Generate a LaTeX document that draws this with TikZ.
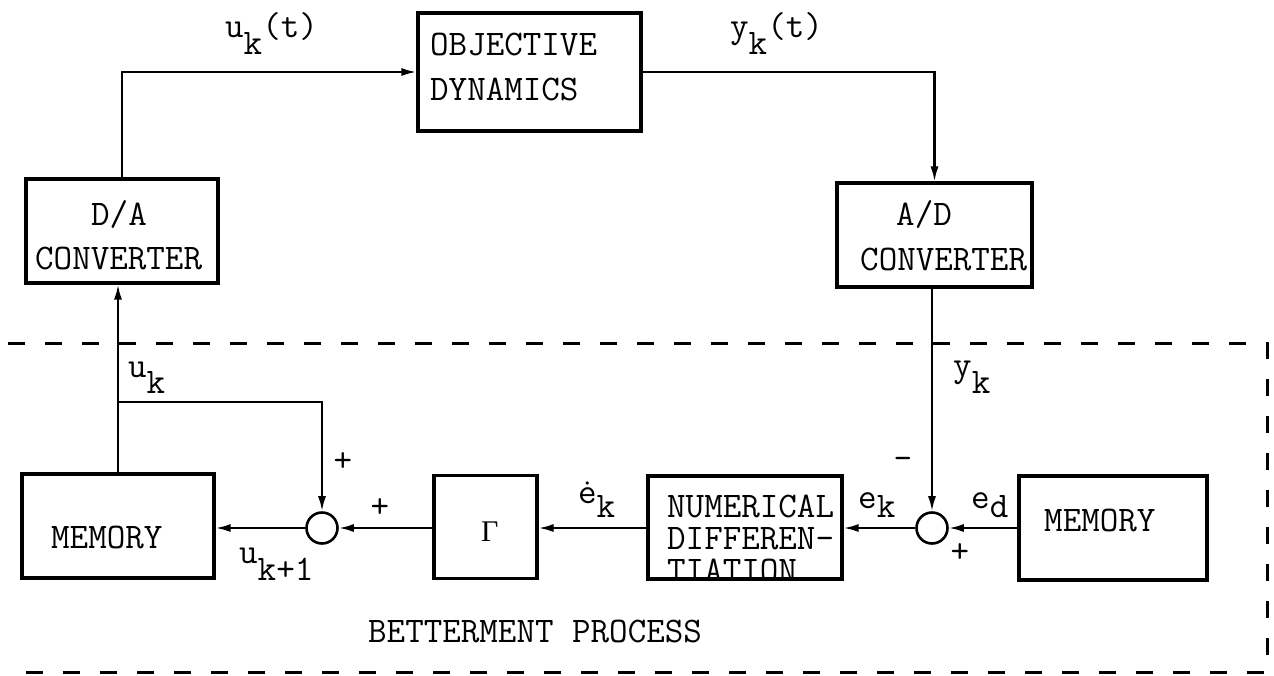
\documentclass[tikz,border=0pt]{standalone}
\usepackage{fontspec}
\newfontfamily\gfont{Liberation Serif}
\usetikzlibrary{arrows.meta}
\newcommand\lowerby[2]{\raisebox{-#1pt}{#2}}
\tikzset{
 box/.style={draw, line width=3.1pt, rectangle, inner sep=0pt},
 conn/.style={line width=2.2pt},
 arr/.style={conn, -{Latex[length=15pt,width=8pt]}},
 txt/.style={inner sep=0pt, font=\ttfamily\fontsize{36pt}{30pt}\selectfont, anchor=base west},
 sumj/.style={draw, circle, line width=2.6pt, minimum size=31pt, inner sep=0pt},
 sign/.style={inner sep=0pt, font=\ttfamily\fontsize{36pt}{30pt}\selectfont},
 border/.style={line width=3pt, dash pattern=on 17pt off 20pt},
}
\begin{document}
\begin{tikzpicture}[x=1pt,y=-1pt]
\useasboundingbox (0,0) rectangle (1274,675);
\fill[white] (0,0) rectangle (1274,675);

% boxes
\node[box, minimum width=223pt, minimum height=118pt] (obj) at (529.5,72) {};
\node[box, minimum width=192pt, minimum height=104pt] (da) at (122,231) {};
\node[box, minimum width=195pt, minimum height=104pt] (ad) at (934.5,235) {};
\node[box, minimum width=192pt, minimum height=104pt] (meml) at (118,526) {};
\node[box, minimum width=103pt, minimum height=103pt] (gam) at (485.5,527) {};
\node[box, minimum width=194pt, minimum height=103pt] (num) at (745,527.5) {};
\node[box, minimum width=188pt, minimum height=104pt] (memr) at (1113,528) {};
\node[sumj] (s1) at (322,528) {};
\node[sumj] (s2) at (932,528) {};

% box texts
\node[txt] (t1) at (430,55) {OBJECTIVE};
\node[txt] (t2) at (430,100) {DYNAMICS};
\node[txt] (t3) at (91,225) {D/A};
\node[txt] (t4) at (35,269) {CONVERTER};
\node[txt] (t5) at (896,225) {A/D};
\node[txt] (t6) at (860,270) {CONVERTER};
\node[txt] (t7) at (51,548) {MEMORY};
\node[txt] (t8) at (1044,531) {MEMORY};
\node[inner sep=0pt, anchor=base west, font=\gfont\fontsize{30pt}{30pt}\selectfont] (t9) at (481,541) {Γ};
\begin{scope}
\clip (648,476) rectangle (842,577);
\node[txt] (t10) at (667,517) {\rlap{NUMERICAL}\rlap{\raisebox{-32pt}{DIFFEREN-}}\raisebox{-64pt}{TIATION}};
\end{scope}
\node[txt] (t13) at (368,642) {BETTERMENT PROCESS};

% signal labels
\node[txt] (l1) at (225,37) {u\lowerby{17}{k}(t)};
\node[txt] (l2) at (730,37) {y\lowerby{17}{k}(t)};
\node[txt] (l3) at (128,377) {u\lowerby{16}{k}};
\node[txt] (l4) at (953,376) {y\lowerby{17}{k}};
\node[txt] (l5) at (239,563) {u\lowerby{17}{k+1}};
\node[txt] (l6) at (578,503) {ė\lowerby{14}{k}};
\node[txt] (l7) at (858,508) {e\lowerby{9}{k}};
\node[txt] (l8) at (971,508) {e\lowerby{9}{d}};
\node[sign] (p1) at (343,462) {+};
\node[sign] (p2) at (380,508) {+};
\node[sign] (p3) at (960,553) {+};
\node[sign] (m1) at (903,463) {-};

% connectors
\coordinate (br) at (118,402);
\coordinate (brc) at (322,402);
\draw[arr] (da.north) |- (obj.west);
\draw[arr] (obj.east) -| (ad.north);
\draw[arr] (s2.north |- ad.south) -- (s2.north);
\draw[arr] (meml.north) -- (meml.north |- da.south);
\draw[arr] (br) -- (brc) -- (s1.north);
\draw[arr] (s1.west) -- (s1.west -| meml.east);
\draw[arr] (gam.west |- s1.east) -- (s1.east);
\draw[arr] (num.west |- s1.east) -- (gam.east |- s1.east);
\draw[arr] (s2.west) -- (s2.west -| num.east);
\draw[arr] (memr.west |- s2.east) -- (s2.east);

% betterment process border
\draw[border] (8,343) -- (1267,343) -- (1267,672) -- (8,672);
\end{tikzpicture}
\end{document}
